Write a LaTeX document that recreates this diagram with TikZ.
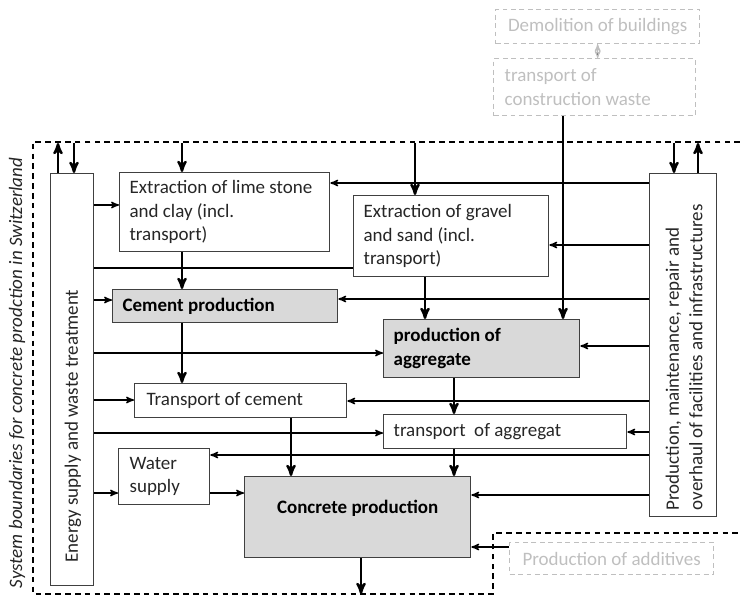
\documentclass[tikz,border=0pt]{standalone}
\usepackage{fontspec}
\setmainfont{Carlito}
\usepackage{tikz}
\usetikzlibrary{arrows}

\definecolor{boxgray}{HTML}{D9D9D9}
\definecolor{ghost}{HTML}{BFBFBF}

\begin{document}
\begin{tikzpicture}[->,>=stealth',x=0.025cm,y=-0.025cm,line width=1pt,
  text=black!85]
  \tikzstyle{every node}=[font=\fontsize{13.5}{16.7}\selectfont,
    execute at begin node={\spaceskip=0pt\xspaceskip=0pt\relax}]
  \tikzstyle{proc}=[draw=black!75,line width=0.9pt,anchor=north west,
    inner ysep=0pt,inner xsep=0.25cm,align=left]
  \tikzstyle{main}=[proc,fill=boxgray,text=black,
    font=\fontsize{13.5}{16.7}\selectfont\bfseries]
  \tikzstyle{outside}=[proc,draw=ghost,dash pattern=on 3.5pt off 2.5pt,text=ghost]
  \tikzstyle{flow}=[line width=1.7pt]
  \tikzstyle{boundary}=[-,line width=0.8pt,dash pattern=on 4pt off 3pt]

  \useasboundingbox (0,0) rectangle (740,596);

  \draw[boundary] (740,142) -- (33,142) -- (33,594) -- (493,594)
    -- (493,533) -- (740,533);

  \node[rotate=90,inner sep=0pt,font=\fontsize{13.5}{16.7}\selectfont\itshape]
    (sysb) at (17,373) {System boundaries for concrete prodction in Switzerland};

  \node[proc,minimum width=1.075cm,minimum height=10.3cm] (energy) at (50,173) {};
  \node[rotate=90,anchor=west,inner sep=0pt] (energytxt) at (73,563)
    {Energy supply and waste treatment};
  \node[proc,minimum width=1.675cm,minimum height=8.575cm] (maint) at (649,173) {};
  \node[rotate=90,anchor=west,inner sep=0pt,align=left] (mainttxt) at (684,511)
    {Production, maintenance, repair and\\overhaul of facilities and infrastructures};

  \node[proc,text width=4.75cm,minimum height=1.975cm] (lime) at (119,172)
    {Extraction of lime stone\\and clay (incl.\\transport)};
  \node[proc,text width=4.375cm,minimum height=2.025cm] (gravel) at (353,195)
    {Extraction of gravel\\and sand (incl.\\transport)};
  \node[main,text width=5.125cm,minimum height=0.825cm] (cement) at (112,289)
    {Cement production};
  \node[main,text width=4.4cm,minimum height=1.45cm] (aggr) at (383,319)
    {production of\\aggregate};
  \node[proc,inner xsep=0.3cm,text width=4.7cm,minimum height=0.85cm] (tcem)
    at (134,383) {Transport of cement};
  \node[proc,text width=5.575cm,minimum height=0.85cm] (tagg) at (383,414)
    {transport~ of aggregat};
  \node[proc,inner xsep=0.275cm,text width=1.725cm,minimum height=1.4cm] (water)
    at (118,448) {Water\\supply};
  \node[main,align=center,minimum width=5.65cm,minimum height=2.025cm,
    text depth=0.5cm] (concrete) at (244,476) {Concrete production};

  \node[outside,align=center,minimum width=5.1cm,minimum height=0.85cm] (demol)
    at (495,9) {Demolition of buildings};
  \node[outside,inner xsep=0.275cm,text width=4.5cm,minimum height=1.425cm] (waste)
    at (493,58) {transport of\\construction waste};
  \node[outside,align=center,minimum width=5.1cm,minimum height=0.8cm] (addit)
    at (509,542) {Production of additives};

  \coordinate (eUp) at (58,143);
  \coordinate (eIn) at (74,143);
  \coordinate (limeIn) at (182,143);
  \coordinate (gravIn) at (415,143);
  \coordinate (mIn) at (674,143);
  \coordinate (mUp) at (698,143);
  \coordinate (out) at (361,594);

  % material flows
  \path[flow] (limeIn) edge (lime.north -| limeIn)
        (gravIn) edge (gravel.north -| gravIn)
        (lime.south -| limeIn) edge (cement.north -| limeIn)
        (gravel.south -| 425,0) edge (aggr.north -| 425,0)
        (waste.south -| 563,0) edge (aggr.north -| 563,0)
        (cement.south -| limeIn) edge (tcem.north -| limeIn)
        (aggr.south -| 454,0) edge (tagg.north -| 454,0)
        (tcem.south -| 291,0) edge (concrete.north -| 291,0)
        (tagg.south -| 454,0) edge (concrete.north -| 454,0)
        (concrete.south -| out) edge (out)
        (energy.north -| eUp) edge (eUp)
        (eIn) edge (energy.north -| eIn)
        (mIn) edge (maint.north -| mIn)
        (maint.north -| mUp) edge (mUp);

  % energy supply and waste treatment
  \path (energy.east |- 0,205) edge (lime.west |- 0,205)
        (energy.east |- 0,268) edge[-] (gravel.west |- 0,268)
        (energy.east |- 0,300) edge (cement.west |- 0,300)
        (energy.east |- 0,353) edge (aggr.west |- 0,353)
        (energy.east |- 0,400) edge (tcem.west |- 0,400)
        (energy.east |- 0,433) edge (tagg.west |- 0,433)
        (energy.east |- 0,493) edge (water.west |- 0,493)
        (water.east |- 0,493) edge (concrete.west |- 0,493);

  % facilities and infrastructures
  \path (maint.west |- 0,183) edge (lime.east |- 0,183)
        (maint.west |- 0,245) edge (gravel.east |- 0,245)
        (maint.west |- 0,299) edge (cement.east |- 0,299)
        (maint.west |- 0,346) edge (aggr.east |- 0,346)
        (maint.west |- 0,401) edge (tcem.east |- 0,401)
        (maint.west |- 0,432) edge (tagg.east |- 0,432)
        (maint.west |- 0,455) edge (water.east |- 0,455)
        (maint.west |- 0,495) edge (concrete.east |- 0,495)
        (addit.west |- 0,547) edge (concrete.east |- 0,547);

  \path[draw=ghost,line width=0.8pt] (demol.south) edge (demol.south |- waste.north);
\end{tikzpicture}
\end{document}
